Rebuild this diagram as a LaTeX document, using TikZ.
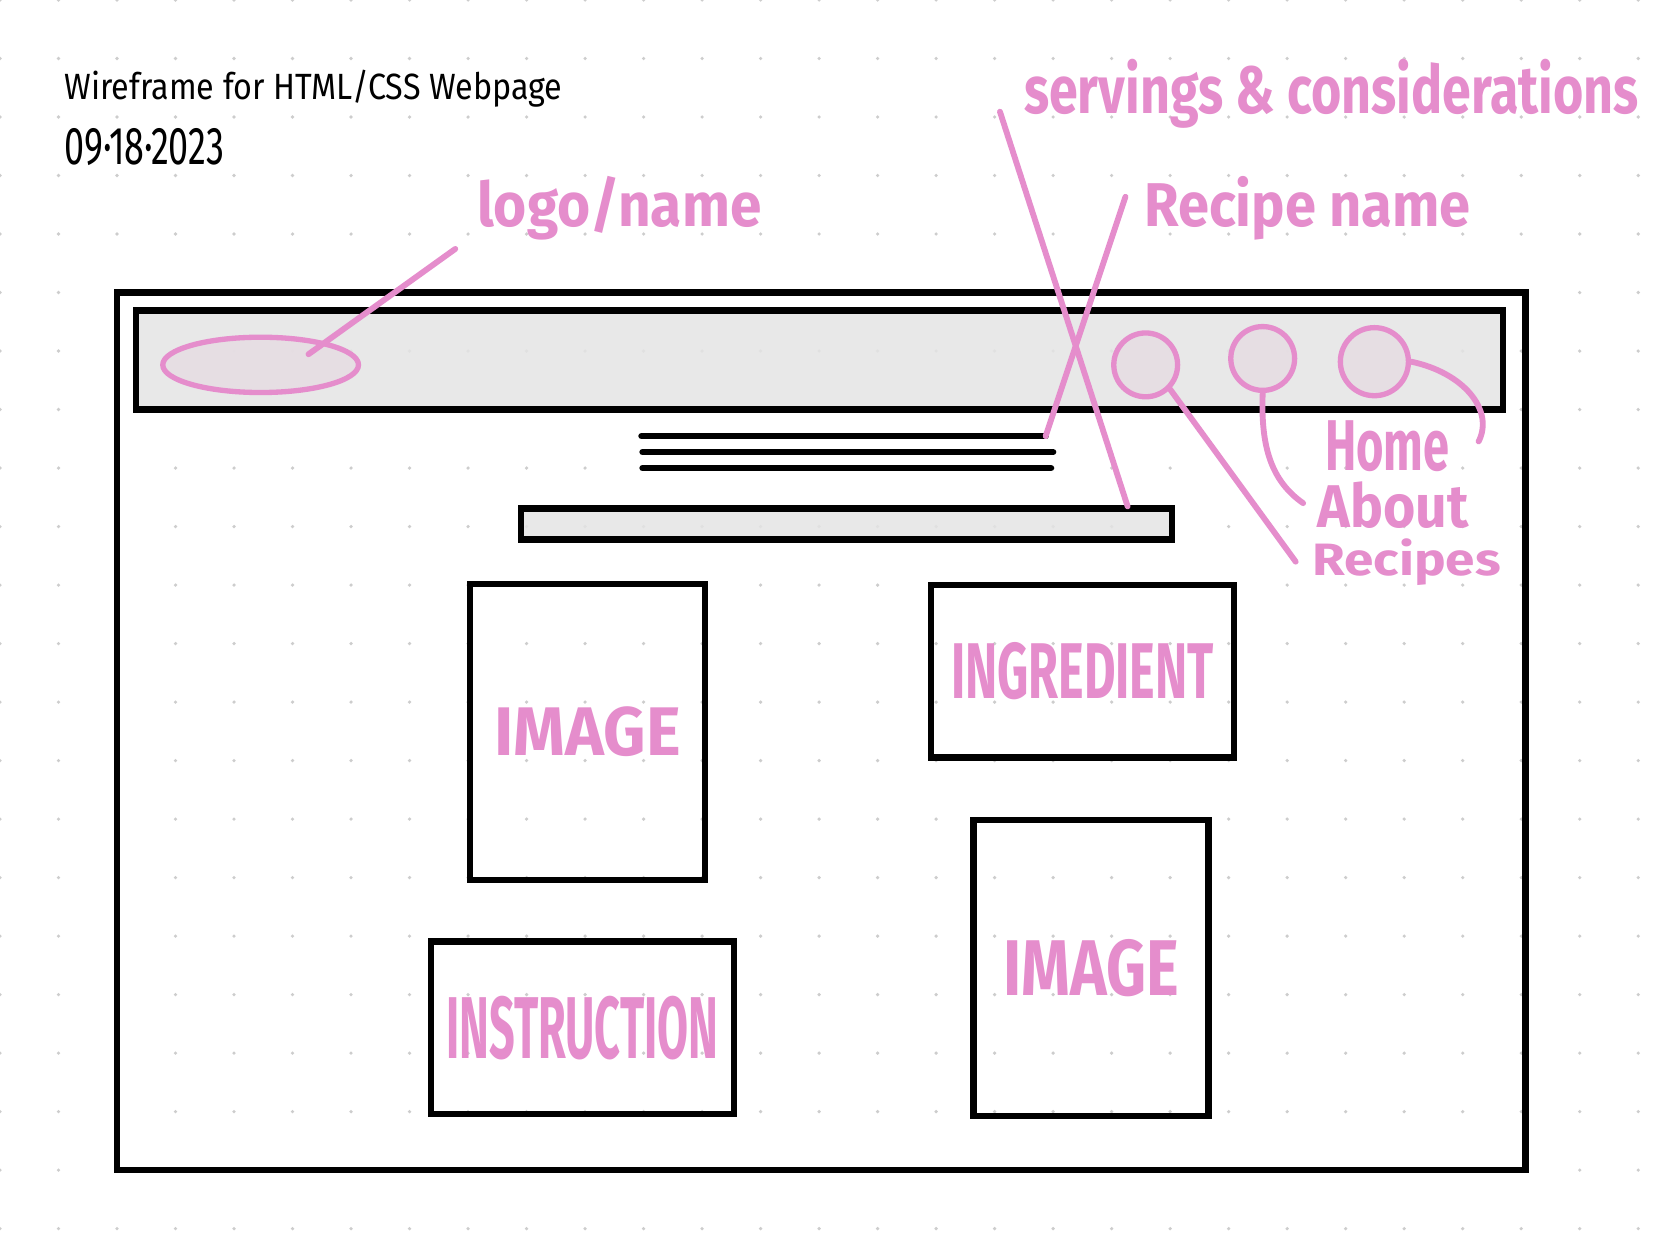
\documentclass[tikz,border=0pt]{standalone}
\usepackage{graphicx}
\usepackage{fontspec}
\setmainfont{Fira Sans}
\usetikzlibrary{shapes,shapes.geometric}
\definecolor{pinkink}{RGB}{229,141,204}
\definecolor{barfill}{RGB}{228,228,228}
\definecolor{btnfill}{RGB}{230,221,227}
\definecolor{gdot}{RGB}{205,205,205}
\newcommand{\hand}[3]{\resizebox*{#1}{#2}{#3}}
\tikzstyle{frm} = [draw, line width=0.6mm, shape=rectangle, inner sep=0pt]
\tikzstyle{bar} = [frm, fill=barfill, fill opacity=0.85]
\tikzstyle{btn} = [draw=pinkink, line width=0.5mm, shape=circle, fill=btnfill, fill opacity=0.85, minimum size=6mm, inner sep=0pt]
\tikzstyle{lbl} = [text=pinkink, inner sep=0pt, anchor=north west, font=\bfseries]
\tikzstyle{note} = [text=black, inner sep=0pt, anchor=north west]
\tikzstyle{ink} = [style={draw=pinkink, line width=0.55mm, line cap=round}]
\tikzstyle{txt} = [style={draw=black, line width=0.6mm, line cap=round}]

\begin{document}
\begin{tikzpicture}[x=0.1mm, y=-0.1mm]
        \fill[white] (0,0) rectangle (1568,1160);
        \useasboundingbox (0,0) rectangle (1568,1160);
        % dot grid
        \foreach \i in {0,...,28}
          \foreach \j in {0,...,21}
            \fill[gdot] (\i*55,\j*55) circle (1.7);
        % page frame and header
        \node[frm, minimum width=132.4mm, minimum height=82.5mm] (page) at (772,687.5) {};
        \node[bar, minimum width=128.5mm, minimum height=9.3mm] (head) at (770.5,338.5) {};
        \node[draw=pinkink, line width=0.5mm, shape=ellipse, fill=btnfill, fill opacity=0.85, minimum width=18.4mm, minimum height=5.2mm] (logo) at (245,343) {};
        \node[btn] (brecipes) at (1077,343) {};
        \node[btn] (babout) at (1187,337) {};
        \node[btn, minimum size=6.4mm] (bhome) at (1292,340) {};
        % title lines and search bar
        \coordinate (t1w) at (603,410);
        \coordinate (t1e) at (983,410);
        \coordinate (t2w) at (604,425);
        \coordinate (t2e) at (990,425);
        \coordinate (t3w) at (604,440);
        \coordinate (t3e) at (988,440);
        \draw[txt] (t1w) -- (t1e);
        \draw[txt] (t2w) -- (t2e);
        \draw[txt] (t3w) -- (t3e);
        \node[bar, minimum width=61.2mm, minimum height=2.9mm] (search) at (796,492.5) {};
        % content boxes
        \node[frm, minimum width=22.1mm, minimum height=27.8mm, text=pinkink, font=\bfseries] (img1) at (552.5,688) {\hand{17.5mm}{4.7mm}{IMAGE}};
        \node[frm, minimum width=28.5mm, minimum height=16.2mm, text=pinkink, font=\bfseries] (ingr) at (1017.5,631) {\hand{24.7mm}{5.4mm}{INGREDIENT}};
        \node[frm, minimum width=28.5mm, minimum height=16.2mm, text=pinkink, font=\bfseries] (instr) at (547.5,966) {\hand{25.6mm}{6mm}{INSTRUCTION}};
        \node[frm, minimum width=22.1mm, minimum height=27.8mm, text=pinkink, font=\bfseries] (img2) at (1025.5,910) {\hand{16.5mm}{5.4mm}{IMAGE}};
        % notes
        \node[note] (title) at (60,65) {\hand{46.8mm}{3.5mm}{Wireframe for HTML/CSS Webpage}};
        \node[note] (date) at (60,120) {\hand{15mm}{3.5mm}{09·18·2023}};
        \node[lbl] (logoname) at (448,165) {\hand{26.7mm}{6mm}{logo/name}};
        \node[lbl] (serv) at (962,55) {\hand{57.8mm}{6.5mm}{servings \& considerations}};
        \node[lbl] (recipe) at (1075,165) {\hand{30.7mm}{6mm}{Recipe name}};
        \node[lbl] (nhome) at (1245,395) {\hand{11.7mm}{4.8mm}{Home}};
        \node[lbl] (nabout) at (1238,452) {\hand{14.2mm}{4.4mm}{About}};
        \node[lbl] (nrecipes) at (1233,506) {\hand{17.7mm}{4.4mm}{Recipes}};
        % pointers
        \coordinate (logotip) at (290,333);
        \coordinate (logoend) at (428,234);
        \coordinate (servend) at (940,105);
        \coordinate (servtip) at (1060,476);
        \coordinate (recend) at (1058,185);
        \coordinate (aboutend) at (1225,473);
        \coordinate (homeend) at (1390,415);
        \coordinate (recipesend) at (1218,528);
        \draw[ink] (logotip) -- (logoend);
        \draw[ink] (servend) -- (servtip);
        \draw[ink] (recend) -- (t1e);
        \draw[ink] (brecipes.-45) -- (recipesend);
        \draw[ink] (babout.south) .. controls (1185,420) and (1195,452) .. (aboutend);
        \draw[ink] (bhome.east) .. controls (1375,350) and (1405,385) .. (homeend);
      \end{tikzpicture}
\end{document}
